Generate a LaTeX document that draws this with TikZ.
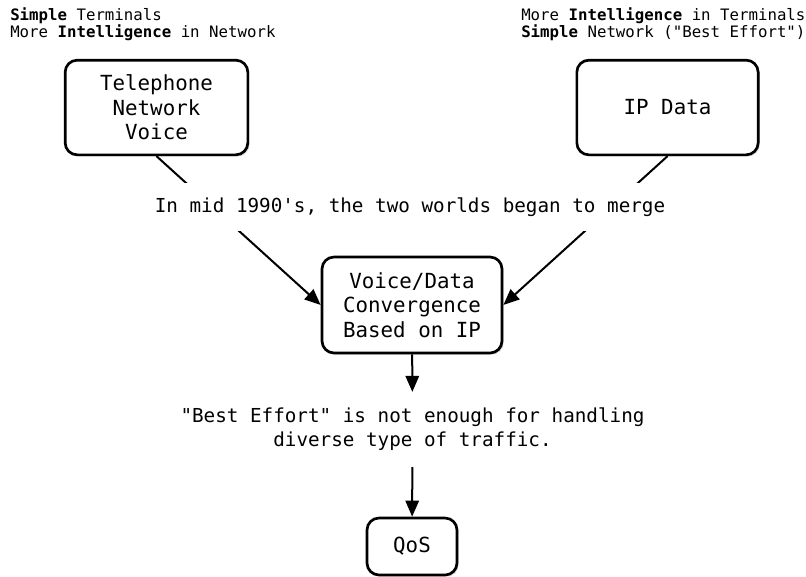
\documentclass[tikz,border=0pt]{standalone}
\usepackage{fontspec}
\setmonofont{DejaVu Sans Mono}
\usetikzlibrary{arrows.meta, shadows}
\tikzset{>={Triangle[length=12pt, width=10pt]}}
\tikzset{
  box/.style={draw, line width=2pt, rounded corners=9pt, fill=white, align=center,
    inner sep=0pt, font=\ttfamily\fontsize{15.6}{18.4}\selectfont,
    drop shadow={shadow xshift=1.3pt, shadow yshift=-1.3pt, opacity=0.25}},
  note/.style={align=left, inner sep=0pt, font=\ttfamily\fontsize{11.8}{13.1}\selectfont},
  say/.style={align=center, fill=white, inner sep=0pt, font=\ttfamily\fontsize{14.45}{18}\selectfont},
  link/.style={->, line width=1.5pt}
}

\begin{document}
\begin{tikzpicture}[x=0.75pt, y=-0.75pt]
\useasboundingbox (0,0) rectangle (806,576);
% the two worlds
\node[box, minimum width=137pt, minimum height=71pt] (phone) at (156.5,107.5) {Telephone\\Network\\Voice};
\node[box, minimum width=136pt, minimum height=71pt] (ipdata) at (667.5,107.5) {IP Data};
\node[note, anchor=west] (leftnote) at (10,24) {\textbf{Simple} Terminals\\More \textbf{Intelligence} in Network};
\node[note, anchor=west] (rightnote) at (521,24) {More \textbf{Intelligence} in Terminals\\\textbf{Simple} Network ("Best Effort")};
% convergence
\node[box, minimum width=135pt, minimum height=72pt] (merge) at (412,305) {Voice/Data\\Convergence\\Based on IP};
\node[box, minimum width=67.5pt, minimum height=42.75pt] (qos) at (412,546.5) {QoS};
\draw[link] (phone.south) -- (merge.west);
\draw[link] (ipdata.south) -- (merge.east);
\node[say, minimum height=36pt] (worlds) at (410,207) {In mid 1990's, the two worlds began to merge};
\node[say, minimum height=56pt] (besteffort) at (412.5,429.5) {"Best Effort" is not enough for handling\\diverse type of traffic.};
\draw[link] (merge) -- (besteffort);
\draw[link] (besteffort) -- (qos);
\end{tikzpicture}
\end{document}
